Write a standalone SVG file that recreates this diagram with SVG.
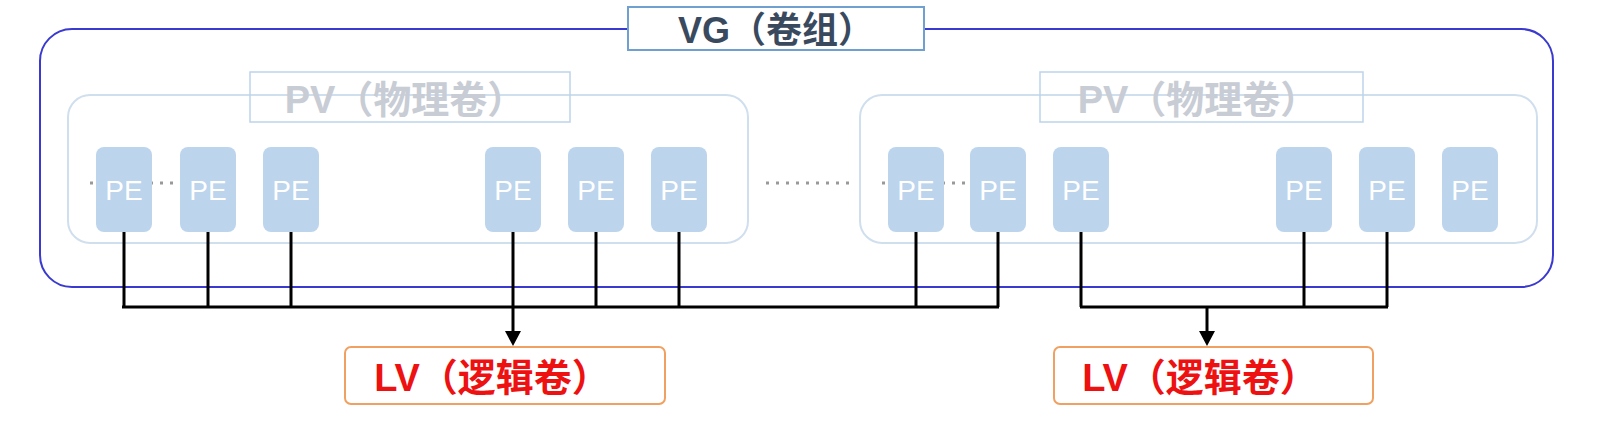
<svg xmlns="http://www.w3.org/2000/svg" width="1600" height="421" viewBox="0 0 1600 421">
<style>
.pe rect{fill:#bcd4ec}
.pe text{fill:#fff;font:28px "Liberation Sans",sans-serif;text-anchor:middle}
.pv{fill:none;stroke:#d0dfee;stroke-width:2}
.pvl{fill:none;stroke:#bcd4ea;stroke-width:1.5}
.pvt{fill:#c8ccd4;font:bold 38px "Liberation Sans","Noto Sans CJK SC",sans-serif;text-anchor:middle}
.lv rect{fill:#fff;stroke:#f0a060;stroke-width:2}
.lv text{fill:#ee1111;font:bold 38px "Liberation Sans","Noto Sans CJK SC",sans-serif;text-anchor:middle}
.dot{stroke:#999;stroke-width:3;stroke-dasharray:3 7}
.wire{fill:none;stroke:#000;stroke-width:3}
</style>
<defs><marker id="ah" markerWidth="14" markerHeight="14" refX="7" refY="12" orient="auto-start-reverse" markerUnits="userSpaceOnUse" viewBox="0 0 14 14"><path d="M0,0 L14,7 L0,14 Z" fill="#000" transform="rotate(-90 7 7) translate(-5,0)"/></marker></defs>
<rect width="1600" height="421" fill="#fff"/>
<g id="vg"><rect x="40" y="29" width="1513" height="258" rx="32" fill="none" stroke="#3a3ad0" stroke-width="2"/>
<rect x="628" y="7" width="296" height="43" fill="#fff" stroke="#6fa0d0" stroke-width="2"/>
<text x="776" y="43" fill="#3a4a5e" style="font:bold 36px 'Liberation Sans','Noto Sans CJK SC',sans-serif" text-anchor="middle">VG（卷组）</text></g>
<g id="pv1"><rect class="pv" x="68" y="95" width="680" height="148" rx="22"/><rect class="pvl" x="250" y="72" width="320" height="50"/><text class="pvt" x="405" y="113">PV（物理卷）</text></g>
<g id="pv2"><rect class="pv" x="860" y="95" width="677" height="148" rx="22"/><rect class="pvl" x="1040" y="72" width="323" height="50"/><text class="pvt" x="1198" y="113">PV（物理卷）</text></g>
<line class="dot" x1="90" y1="183" x2="178" y2="183"/>
<line class="dot" x1="766" y1="183" x2="850" y2="183"/>
<line class="dot" x1="882" y1="183" x2="968" y2="183"/>
<g id="pe1" class="pe"><rect x="96" y="147" width="56" height="85" rx="8"/><text x="124" y="200">PE</text></g>
<g id="pe2" class="pe"><rect x="180" y="147" width="56" height="85" rx="8"/><text x="208" y="200">PE</text></g>
<g id="pe3" class="pe"><rect x="263" y="147" width="56" height="85" rx="8"/><text x="291" y="200">PE</text></g>
<g id="pe4" class="pe"><rect x="485" y="147" width="56" height="85" rx="8"/><text x="513" y="200">PE</text></g>
<g id="pe5" class="pe"><rect x="568" y="147" width="56" height="85" rx="8"/><text x="596" y="200">PE</text></g>
<g id="pe6" class="pe"><rect x="651" y="147" width="56" height="85" rx="8"/><text x="679" y="200">PE</text></g>
<g id="pe7" class="pe"><rect x="888" y="147" width="56" height="85" rx="8"/><text x="916" y="200">PE</text></g>
<g id="pe8" class="pe"><rect x="970" y="147" width="56" height="85" rx="8"/><text x="998" y="200">PE</text></g>
<g id="pe9" class="pe"><rect x="1053" y="147" width="56" height="85" rx="8"/><text x="1081" y="200">PE</text></g>
<g id="pe10" class="pe"><rect x="1276" y="147" width="56" height="85" rx="8"/><text x="1304" y="200">PE</text></g>
<g id="pe11" class="pe"><rect x="1359" y="147" width="56" height="85" rx="8"/><text x="1387" y="200">PE</text></g>
<g id="pe12" class="pe"><rect x="1442" y="147" width="56" height="85" rx="8"/><text x="1470" y="200">PE</text></g>
<g id="connectors">
<path class="wire" d="M124,232V307M208,232V307M291,232V307M596,232V307M679,232V307M916,232V307M998,232V307M122,307H999"/>
<path class="wire" d="M513,232V333"/>
<path d="M505,331H521L513,346Z" fill="#000"/>
<path class="wire" d="M1081,232V307M1304,232V307M1387,232V307M1080,307H1388"/>
<path class="wire" d="M1207,307V333"/>
<path d="M1199,331H1215L1207,346Z" fill="#000"/>
</g>
<g id="lv1" class="lv"><rect x="345" y="347" width="320" height="57" rx="6"/><text x="492" y="391">LV（逻辑卷）</text></g>
<g id="lv2" class="lv"><rect x="1054" y="347" width="319" height="57" rx="6"/><text x="1200" y="391">LV（逻辑卷）</text></g>
</svg>
